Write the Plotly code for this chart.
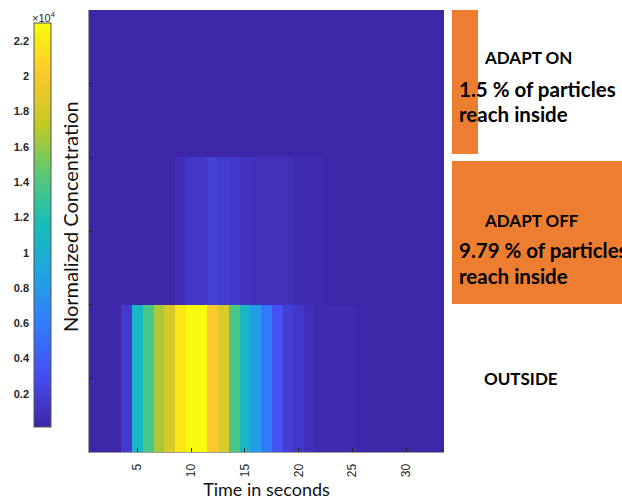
import plotly.graph_objects as go

# ---------------- data ----------------
time_s = [1, 2, 3, 4, 5, 6, 7, 8, 9, 10, 11, 12, 13, 14, 15, 16, 17,
          18, 19, 20, 21, 22, 23, 24, 25, 26, 27, 28, 29, 30, 31, 32, 33]
row_pos = [1, 2, 3]
row_names = ["OUTSIDE", "ADAPT OFF", "ADAPT ON"]

outside = [130, 130, 130, 1600, 10800, 13600, 16600, 18200, 21800, 23000, 23000,
           20100, 18400, 13800, 10800, 8300, 5800, 3300, 1900, 1400, 800, 450,
           450, 450, 450, 130, 130, 130, 130, 130, 130, 130, 130]
adapt_off = [130, 130, 130, 130, 130, 130, 130, 130, 750, 1400, 1550, 2000, 1750,
             1450, 1150, 850, 850, 850, 850, 450, 450, 450, 130, 130, 130, 130,
             130, 130, 130, 130, 130, 130, 130]
adapt_on = [130, 130, 130, 130, 130, 130, 130, 130, 130, 130, 130, 130, 130,
            130, 130, 130, 130, 130, 130, 130, 130, 130, 130, 130, 130, 130,
            130, 130, 130, 130, 130, 130, 130]

z_min, z_max = 130, 23000
x_ticks = [5, 10, 15, 20, 25, 30]
y_ticks = [1, 1.5, 2, 2.5, 3]
cbar_ticks = [0.2, 0.4, 0.6, 0.8, 1, 1.2, 1.4, 1.6, 1.8, 2, 2.2]  # x10^4

# ---------------- style ----------------
W, H = 622, 500


def px(x):
    return x / W


def py(y):
    return 1 - y / H


parula = [
    [0.000, "rgb(62,38,168)"],
    [0.125, "rgb(71,76,240)"],
    [0.250, "rgb(50,123,252)"],
    [0.375, "rgb(33,163,227)"],
    [0.500, "rgb(22,189,186)"],
    [0.625, "rgb(89,201,117)"],
    [0.750, "rgb(197,201,36)"],
    [0.875, "rgb(252,200,45)"],
    [1.000, "rgb(249,251,14)"],
]

fig = go.Figure()

fig.add_trace(go.Heatmap(
    x=time_s, y=row_pos, z=[outside, adapt_off, adapt_on],
    colorscale=parula, zmin=z_min, zmax=z_max, zsmooth=False,
    hoverinfo="skip",
    colorbar=dict(
        x=px(34), xanchor="left", xref="paper",
        y=py(427), yanchor="bottom", yref="paper",
        len=(427 - 23) / H, lenmode="fraction",
        thickness=17, thicknessmode="pixels",
        xpad=0, ypad=0, showticklabels=False, ticks="",
        outlinewidth=1, outlinecolor="#555555",
    ),
))

# invisible trace carrying the colorbar's tick-label axis
fig.add_trace(go.Scatter(x=[0.5], y=[1], xaxis="x2", yaxis="y2", mode="markers",
                         marker=dict(opacity=0), showlegend=False,
                         hoverinfo="skip"))

axis_font = dict(family="Liberation Sans, Arial", size=12, color="#262626")

fig.update_layout(
    width=W, height=H, autosize=False,
    margin=dict(l=0, r=0, t=0, b=0),
    paper_bgcolor="white", plot_bgcolor="white",
    showlegend=False,
    xaxis=dict(
        domain=[px(89), px(444)], range=[0.5, 33.5],
        tickvals=x_ticks, tickangle=-90, tickfont=axis_font,
        ticks="inside", ticklen=4, tickcolor="#262626",
        ticklabelstandoff=6,
        showline=True, linecolor="#a0a0a0", linewidth=1, mirror=False,
        showgrid=False, zeroline=False, automargin=False,
        title=dict(text="Time in seconds",
                   font=dict(family="Lato", size=18, color="#111111"),
                   standoff=7),
        anchor="y",
    ),
    yaxis=dict(
        domain=[py(452), py(10)], range=[0.5, 3.5],
        tickvals=y_ticks, showticklabels=False,
        ticks="inside", ticklen=4, tickcolor="#262626",
        showline=True, linecolor="#a0a0a0", linewidth=1, mirror=False,
        showgrid=False, zeroline=False, automargin=False,
        anchor="x",
    ),
    xaxis2=dict(
        domain=[px(34), px(51)], range=[0, 1], visible=False,
        anchor="y2", fixedrange=True,
    ),
    yaxis2=dict(
        domain=[py(427), py(23)], range=[z_min / 1e4, z_max / 1e4],
        tickvals=cbar_ticks, side="left", anchor="x2",
        ticks="inside", ticklen=4, tickcolor="#262626",
        ticklabelstandoff=4,
        tickfont=dict(family="Liberation Sans, Arial", size=11,
                      color="#262626", weight="bold"),
        showline=False, showgrid=False, zeroline=False, automargin=False,
        fixedrange=True,
    ),
)

# orange boxes
fig.add_shape(type="rect", xref="paper", yref="paper",
              x0=px(452), x1=px(630), y0=py(304), y1=py(161),
              fillcolor="#ED7D31", line=dict(width=0), layer="below")
fig.add_shape(type="rect", xref="paper", yref="paper",
              x0=px(452), x1=px(478), y0=py(154), y1=py(10),
              fillcolor="#ED7D31", line=dict(width=0), layer="below")

label_big = dict(family="Lato", size=20.5, color="black", weight="bold")
label_mid = dict(family="Lato", size=17, color="black", weight="bold")


def note(text, x, y, font, **kw):
    fig.add_annotation(text=text, x=px(x), y=py(y), xref="paper", yref="paper",
                       xanchor="left", yanchor="middle", showarrow=False,
                       font=font, **kw)


note("ADAPT ON", 482, 58, label_mid)
note("1.5 % of particles", 457, 89, label_big)
note("reach inside", 457, 114, label_big)
note("ADAPT OFF", 482, 221, label_mid)
note("9.79 % of particles", 457, 250, label_big)
note("reach inside", 457, 276, label_big)
note("OUTSIDE", 482, 378, label_mid)

# colorbar exponent and title
fig.add_annotation(text="\u00d710<sup>4</sup>", x=px(44), y=py(17),
                   xref="paper", yref="paper", xanchor="center",
                   yanchor="middle", showarrow=False,
                   font=dict(family="Liberation Sans, Arial", size=11,
                             color="#262626"))
fig.add_annotation(text="Normalized Concentration", x=px(70), y=py(217),
                   xref="paper", yref="paper", xanchor="center",
                   yanchor="middle", showarrow=False, textangle=-90,
                   font=dict(family="Lato", size=20, color="#111111"))

fig.write_html("out.html",
               config={"displayModeBar": False, "staticPlot": True},
               post_script="document.body.style.margin='0';"
                           "document.body.style.overflow='hidden';")
